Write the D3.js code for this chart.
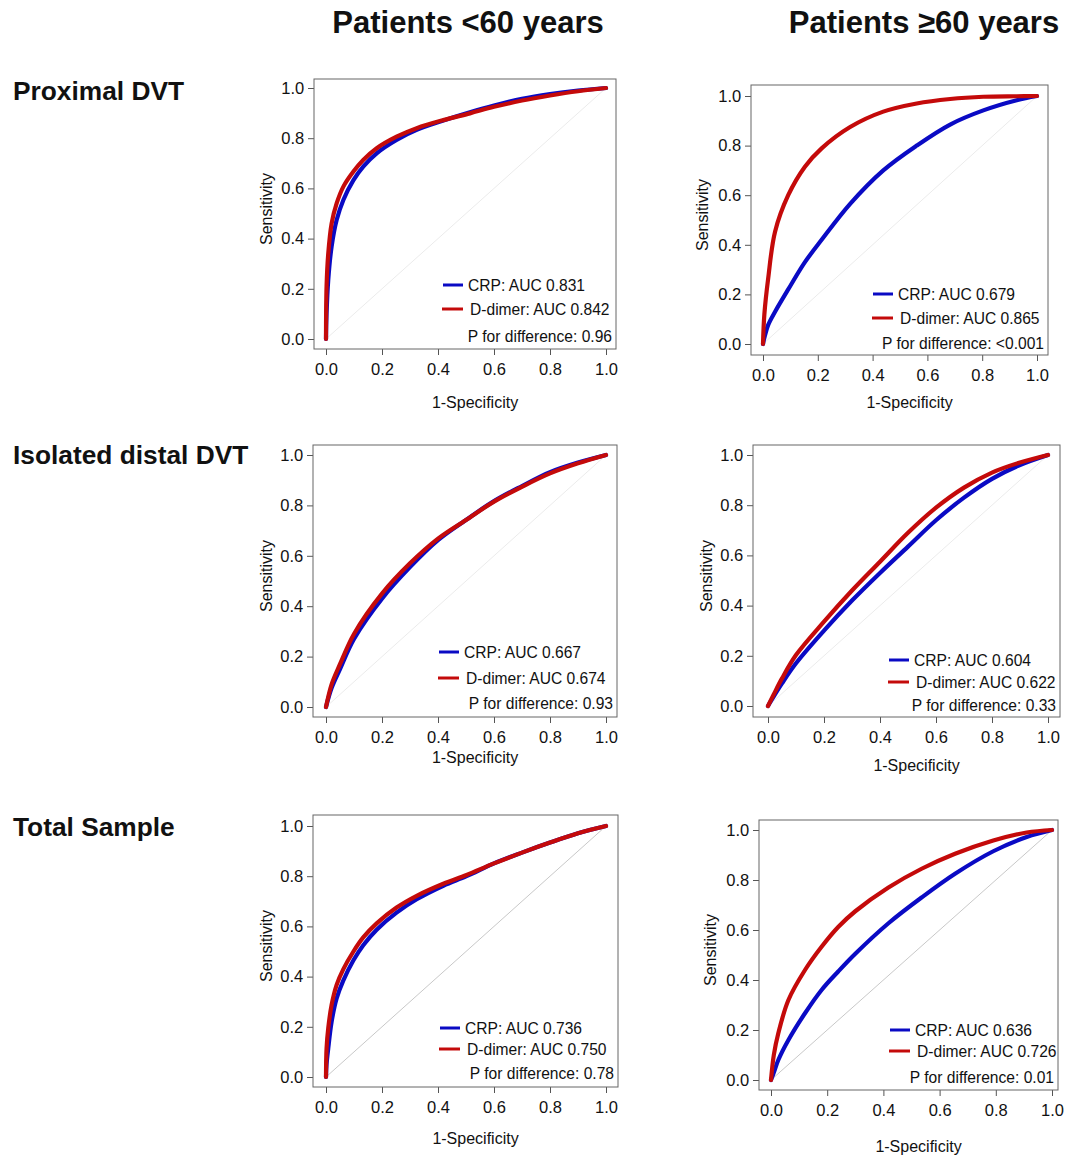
<!DOCTYPE html>
<html>
<head>
<meta charset="utf-8">
<script src="https://cdn.jsdelivr.net/npm/d3@7"></script>
<style>
  body { margin:0; background:#fff; }
  text { font-family: "Liberation Sans", Arial, sans-serif; fill:#111; }
</style>
</head>
<body>
<svg width="1075" height="1156"></svg>
<script>
// column and row titles
var colTitles = ["Patients <60 years", "Patients \u226560 years"]
var rowTitles = ["Proximal DVT", "Isolated distal DVT", "Total Sample"]
var ticks = [0, 0.2, 0.4, 0.6, 0.8, 1.0]

// ROC points: fpr and sensitivity
var fprProx60 = [0, 0.002, 0.008, 0.02, 0.038, 0.062, 0.098, 0.133, 0.181, 0.252, 0.324, 0.419, 0.514, 0.6, 0.7, 0.8, 0.9, 1]
var crpProx60 = [0, 0.10, 0.235, 0.368, 0.474, 0.554, 0.633, 0.687, 0.74, 0.793, 0.833, 0.87, 0.903, 0.93, 0.957, 0.976, 0.99, 1]
var ddProx60  = [0, 0.21, 0.34, 0.46, 0.54, 0.607, 0.667, 0.713, 0.76, 0.806, 0.84, 0.872, 0.899, 0.925, 0.95, 0.97, 0.987, 1]

var fprProx61 = [0, 0.005, 0.019, 0.044, 0.092, 0.153, 0.214, 0.318, 0.439, 0.561, 0.683, 0.804, 0.926, 1]
var crpProx61 = [0, 0.025, 0.077, 0.13, 0.22, 0.33, 0.42, 0.565, 0.70, 0.80, 0.885, 0.942, 0.983, 1]
var ddProx61  = [0, 0.12, 0.265, 0.453, 0.60, 0.715, 0.789, 0.875, 0.937, 0.97, 0.988, 0.997, 0.999, 1]

var fprDist60 = [0, 0.02, 0.05, 0.1, 0.2, 0.3, 0.4, 0.5, 0.6, 0.7, 0.8, 0.9, 1]
var crpDist60 = [0, 0.075, 0.15, 0.27, 0.43, 0.555, 0.662, 0.742, 0.817, 0.877, 0.932, 0.97, 1]
var ddDist60  = [0, 0.09, 0.17, 0.29, 0.45, 0.57, 0.668, 0.742, 0.815, 0.874, 0.927, 0.967, 1]

var fprDist61 = [0, 0.02, 0.05, 0.1, 0.2, 0.3, 0.4, 0.5, 0.6, 0.7, 0.8, 0.9, 1]
var crpDist61 = [0, 0.037, 0.09, 0.17, 0.30, 0.42, 0.53, 0.635, 0.74, 0.83, 0.905, 0.96, 1]
var ddDist61  = [0, 0.045, 0.11, 0.203, 0.336, 0.46, 0.575, 0.69, 0.79, 0.87, 0.93, 0.97, 1]

var fprTot60 = [0, 0.002, 0.008, 0.02, 0.038, 0.062, 0.098, 0.133, 0.181, 0.252, 0.324, 0.419, 0.502, 0.6, 0.7, 0.8, 0.9, 1]
var crpTot60 = [0, 0.05, 0.114, 0.22, 0.313, 0.385, 0.465, 0.525, 0.587, 0.655, 0.708, 0.762, 0.80, 0.851, 0.894, 0.934, 0.971, 1]
var ddTot60  = [0, 0.114, 0.194, 0.287, 0.367, 0.43, 0.50, 0.556, 0.612, 0.675, 0.722, 0.77, 0.805, 0.851, 0.894, 0.934, 0.971, 1]

var fprTot61 = [0, 0.01, 0.026, 0.062, 0.121, 0.18, 0.24, 0.30, 0.418, 0.536, 0.655, 0.791, 0.91, 1]
var crpTot61 = [0, 0.03, 0.08, 0.16, 0.267, 0.36, 0.435, 0.505, 0.627, 0.73, 0.825, 0.915, 0.972, 1]
var ddTot61  = [0, 0.10, 0.187, 0.32, 0.44, 0.533, 0.613, 0.675, 0.77, 0.845, 0.905, 0.958, 0.99, 1]

var crpAuc = ["0.831", "0.679", "0.667", "0.604", "0.736", "0.636"]
var ddAuc  = ["0.842", "0.865", "0.674", "0.622", "0.750", "0.726"]
var pDiff  = ["0.96", "<0.001", "0.93", "0.33", "0.78", "0.01"]

var fprs = [fprProx60, fprProx61, fprDist60, fprDist61, fprTot60, fprTot61]
var crps = [crpProx60, crpProx61, crpDist60, crpDist61, crpTot60, crpTot61]
var dds  = [ddProx60, ddProx61, ddDist60, ddDist61, ddTot60, ddTot61]

// panel placement (frame box, data range, label spots)
var layout = [
  {fx0:314, fx1:616, fy0:79,  fy1:349,  x0:326, x1:606,  y1:88,  y0:339,  xl:53, yl:266, leg:[285,309,336], lx:443, diag:"#ebebeb"},
  {fx0:751, fx1:1048,fy0:85,  fy1:355,  x0:763, x1:1037, y1:96,  y0:344,  xl:47, yl:702, leg:[294,318,343], lx:873, diag:"#ebebeb"},
  {fx0:313, fx1:617, fy0:445, fy1:717,  x0:326, x1:606,  y1:455, y0:707,  xl:40, yl:266, leg:[652,678,703], lx:439, diag:"#ebebeb"},
  {fx0:753, fx1:1060,fy0:445, fy1:717,  x0:768, x1:1048, y1:455, y0:706,  xl:48, yl:706, leg:[660,682,705], lx:889, diag:"#ebebeb"},
  {fx0:313, fx1:618, fy0:815, fy1:1087, x0:326, x1:606,  y1:826, y0:1077, xl:51, yl:266, leg:[1028,1049,1073], lx:440, diag:"#c8c8c8"},
  {fx0:759, fx1:1058,fy0:820, fy1:1090, x0:771, x1:1052, y1:830, y0:1080, xl:56, yl:710, leg:[1030,1051,1077], lx:890, diag:"#c8c8c8"}
]

var blue = "#0a0ac4"
var red = "#c40a0a"

var svg = d3.select("svg")

svg.selectAll(".coltitle")
   .data(colTitles)
   .enter()
   .append("text")
   .attr("x", function(d, i){ return [468, 924][i] })
   .attr("y", 33)
   .attr("text-anchor", "middle")
   .style("font-size", "31px")
   .style("font-weight", "bold")
   .text(function(d){ return d })

svg.selectAll(".rowtitle")
   .data(rowTitles)
   .enter()
   .append("text")
   .attr("x", 13)
   .attr("y", function(d, i){ return [100, 464, 836][i] })
   .style("font-size", "26.3px")
   .style("font-weight", "bold")
   .text(function(d){ return d })

var drawPanel = function(i)
{
  var L = layout[i]
  var g = svg.append("g")

  var xScale = d3.scaleLinear().domain([0, 1]).range([L.x0, L.x1])
  var yScale = d3.scaleLinear().domain([0, 1]).range([L.y0, L.y1])

  var xAxis = d3.axisBottom(xScale).tickValues(ticks).tickFormat(d3.format(".1f")).tickSize(6).tickSizeOuter(0)
  var yAxis = d3.axisLeft(yScale).tickValues(ticks).tickFormat(d3.format(".1f")).tickSize(6).tickSizeOuter(0)

  var xg = g.append("g").attr("transform", "translate(0," + L.fy1 + ")").call(xAxis)
  var yg = g.append("g").attr("transform", "translate(" + L.fx0 + ",0)").call(yAxis)
  ;[xg, yg].forEach(function(a){
    a.select(".domain").remove()
    a.selectAll("line").attr("stroke", "#555")
    a.selectAll("text").style("font-size", "16.5px").style("font-family", "Liberation Sans, Arial, sans-serif").attr("fill", "#111")
  })
  xg.selectAll("text").attr("dy", "1.0em")
  yg.selectAll("text").attr("dx", "-0.05em")

  // diagonal reference
  g.append("line")
   .attr("x1", xScale(0)).attr("y1", yScale(0))
   .attr("x2", xScale(1)).attr("y2", yScale(1))
   .attr("stroke", L.diag).attr("stroke-width", 1)

  var line = d3.line()
    .x(function(d){ return xScale(d[0]) })
    .y(function(d){ return yScale(d[1]) })
    .curve(d3.curveCatmullRom.alpha(0.5))

  var crpPts = fprs[i].map(function(f, k){ return [f, crps[i][k]] })
  var ddPts = fprs[i].map(function(f, k){ return [f, dds[i][k]] })

  g.append("path").attr("d", line(crpPts)).attr("fill", "none")
   .attr("stroke", blue).attr("stroke-width", 4.2).attr("stroke-linecap", "round")
  g.append("path").attr("d", line(ddPts)).attr("fill", "none")
   .attr("stroke", red).attr("stroke-width", 4.2).attr("stroke-linecap", "round")

  // frame
  g.append("rect")
   .attr("x", L.fx0).attr("y", L.fy0)
   .attr("width", L.fx1 - L.fx0).attr("height", L.fy1 - L.fy0)
   .attr("fill", "none").attr("stroke", "#666").attr("stroke-width", 1)

  // axis titles
  g.append("text")
   .attr("x", (L.fx0 + L.fx1) / 2 + 10).attr("y", L.fy1 + L.xl + 6)
   .attr("text-anchor", "middle").style("font-size", "16px")
   .text("1-Specificity")
  g.append("text")
   .attr("transform", "translate(" + (L.yl + 6) + "," + ((L.fy0 + L.fy1) / 2 - 5) + ") rotate(-90)")
   .attr("text-anchor", "middle").style("font-size", "16px")
   .text("Sensitivity")

  // legend
  var items = [
    {c: blue, t: "CRP: AUC " + crpAuc[i], dx: 0},
    {c: red, t: "D-dimer: AUC " + ddAuc[i], dx: 2}
  ]
  items.forEach(function(it, k){
    g.append("line")
     .attr("x1", L.lx - (k ? 1 : 0)).attr("x2", L.lx + 20)
     .attr("y1", L.leg[k]).attr("y2", L.leg[k])
     .attr("stroke", it.c).attr("stroke-width", 3)
    g.append("text")
     .attr("x", L.lx + 25 + it.dx).attr("y", L.leg[k] + 5.5)
     .style("font-size", "15.6px")
     .text(it.t)
  })
  g.append("text")
   .attr("x", L.fx1 - 4).attr("y", L.leg[2] + 5.5)
   .attr("text-anchor", "end")
   .style("font-size", "15.6px")
   .text("P for difference: " + pDiff[i])
}

for (var i = 0; i < 6; i++) drawPanel(i)
</script>
</body>
</html>
